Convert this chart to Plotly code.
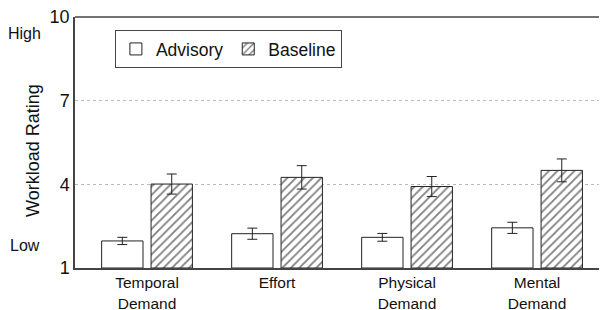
import plotly.graph_objects as go

categories = ["Temporal<br>Demand", "Effort", "Physical<br>Demand", "Mental<br>Demand"]
advisory = [1.97, 2.23, 2.10, 2.44]
advisory_err = [0.13, 0.20, 0.14, 0.20]
baseline = [4.01, 4.25, 3.92, 4.50]
baseline_err = [0.36, 0.42, 0.36, 0.41]
y_ticks = [1, 4, 7, 10]

pos = list(range(len(categories)))
bw = 0.318
gap = 0.031
FONT = "Liberation Sans, Arial, sans-serif"

fig = go.Figure()
fig.add_trace(go.Bar(
    name="Advisory", x=pos, y=[v - 1 for v in advisory], base=1,
    width=bw, offset=-(bw + gap),
    marker=dict(color="white", line=dict(color="#222", width=1)),
    error_y=dict(type="data", array=advisory_err, color="#222", thickness=1, width=5),
))
fig.add_trace(go.Bar(
    name="Baseline", x=pos, y=[v - 1 for v in baseline], base=1,
    width=bw, offset=gap,
    marker=dict(color="white", line=dict(color="#222", width=1),
                pattern=dict(shape="/", fgcolor="#000", bgcolor="white", size=6, solidity=0.3)),
    error_y=dict(type="data", array=baseline_err, color="#222", thickness=1, width=5),
))

# page body adds an 8px margin, so the figure is 8px smaller
fig.update_layout(
    width=599, height=302,
    margin=dict(l=67, r=0, t=9, b=42),
    paper_bgcolor="white", plot_bgcolor="white",
    barmode="overlay",
    font=dict(family=FONT, color="#111"),
    showlegend=True,
    legend=dict(orientation="h", x=0.075, y=0.948, xanchor="left", yanchor="top",
                bgcolor="white", bordercolor="#444", borderwidth=1,
                font=dict(size=17.5, family=FONT), traceorder="normal",
                itemwidth=30),
    xaxis=dict(range=[-0.554, 3.538], tickvals=pos, ticktext=categories, automargin=False,
               showgrid=False, zeroline=False, showline=True, linecolor="#444", linewidth=1.5,
               mirror=False, tickfont=dict(size=15.5, family=FONT, color="#111"), ticks=""),
    yaxis=dict(range=[1, 10], tickvals=y_ticks, showgrid=True, gridcolor="#bbb", griddash="dot",
               automargin=False, ticklabeloverflow="allow",
               gridwidth=1, zeroline=False, showline=True, linecolor="#444", linewidth=1.5,
               tickfont=dict(size=18, family=FONT, color="#111"), ticks=""),
    annotations=[
        dict(text="Workload Rating", textangle=-90, xref="paper", yref="paper",
             x=-0.079, y=0.47, xanchor="center", yanchor="middle", showarrow=False,
             font=dict(size=18, family=FONT, color="#111")),
        dict(text="High", xref="paper", yref="y", x=-0.094, y=9.42, xanchor="center",
             yanchor="middle", showarrow=False, font=dict(size=16, family=FONT, color="#111")),
        dict(text="Low", xref="paper", yref="y", x=-0.094, y=1.82, xanchor="center",
             yanchor="middle", showarrow=False, font=dict(size=16, family=FONT, color="#111")),
    ],
)
# top frame line
fig.add_shape(type="line", xref="paper", yref="paper", x0=0, x1=1, y0=1, y1=1,
              line=dict(color="#444", width=1.5))

fig.write_html("out.html")
